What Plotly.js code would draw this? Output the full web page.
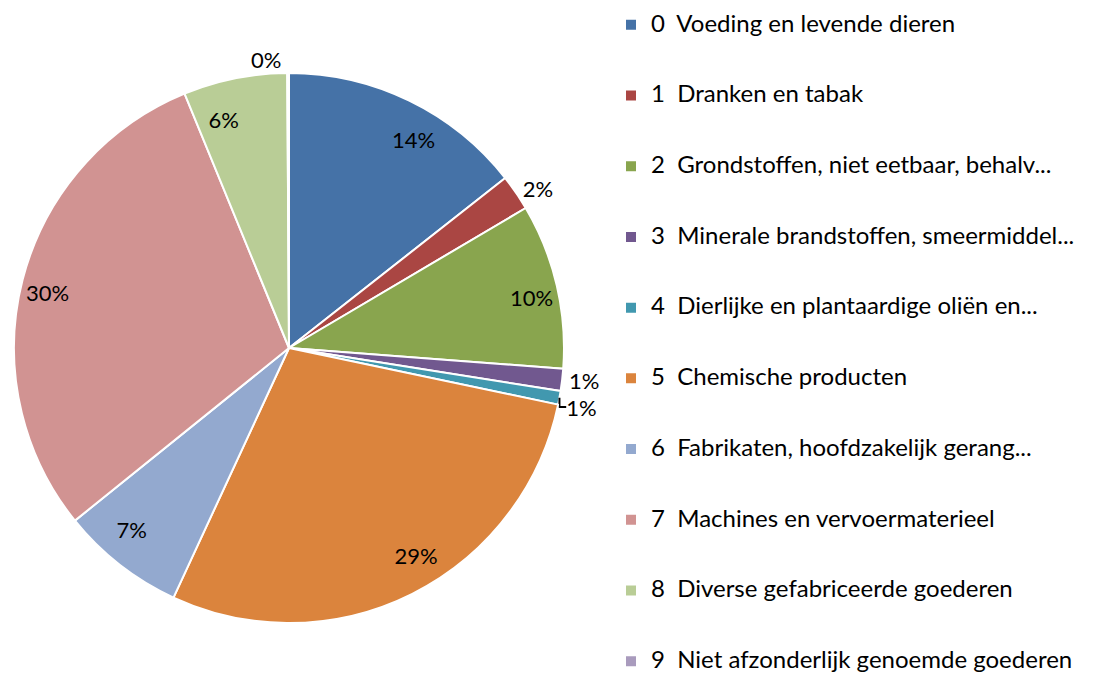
<!DOCTYPE html>
<html>
<head>
<meta charset="utf-8">
<script src="https://cdn.plot.ly/plotly-3.0.1.min.js"></script>
<style>
  html, body { margin: 0; padding: 0; background: #fff; }
  #chart { width: 1097px; height: 673px; }
</style>
</head>
<body>
<div id="chart"></div>
<script>
const codes = ['0', '1', '2', '3', '4', '5', '6', '7', '8', '9'];
const names = [
    'Voeding en levende dieren',
    'Dranken en tabak',
    'Grondstoffen, niet eetbaar, behalv...',
    'Minerale brandstoffen, smeermiddel...',
    'Dierlijke en plantaardige oliën en...',
    'Chemische producten',
    'Fabrikaten, hoofdzakelijk gerang...',
    'Machines en vervoermaterieel',
    'Diverse gefabriceerde goederen',
    'Niet afzonderlijk genoemde goederen'
];
const shares = [14.4, 2.1, 9.7, 1.3, 0.8, 28.6, 7.3, 29.6, 6.1, 0.1];
const colors = ['#4572A7', '#AA4643', '#89A54E', '#71588F', '#4198AF',
                '#DB843D', '#93A9CF', '#D19392', '#B9CD96', '#A99BBD'];
// small slices get their label outside the pie
const smallSlice = [false, true, false, true, true, false, false, false, false, true];

const font = 'Lato, "Open Sans", sans-serif';

// legend entries padded with empty lines to get the wide row spacing
const legendLabels = codes.map((c, i) =>
    '\u00a0<br><span style="font-size:24px">' + c + '\u00a0\u00a0' + names[i] + '</span><br>\u00a0');

const W = 1097, H = 673;
const cx = 289, cy = 348, R = 275, rLab = 220;

const pie = {
    type: 'pie',
    labels: legendLabels,
    values: shares,
    sort: false,
    direction: 'clockwise',
    rotation: 0,
    marker: { colors: colors, line: { color: '#fff', width: 2 } },
    texttemplate: '%{percent:.0%}',
    textposition: smallSlice.map(s => s ? 'outside' : 'none'),
    outsidetextfont: { family: font, size: 22, color: '#000' },
    hoverinfo: 'label+percent',
    domain: { x: [(cx - R) / W, (cx + R) / W], y: [(H - cy - R) / H, (H - cy + R) / H] }
};

// transparent copy carrying the labels of the larger slices
const pieLabels = {
    type: 'pie',
    labels: legendLabels,
    values: shares,
    sort: false,
    direction: 'clockwise',
    rotation: 0,
    showlegend: false,
    marker: { colors: colors.map(() => 'rgba(0,0,0,0)'), line: { width: 0 } },
    texttemplate: '%{percent:.0%}',
    textposition: smallSlice.map(s => s ? 'none' : 'outside'),
    outsidetextfont: { family: font, size: 22, color: '#000' },
    hoverinfo: 'skip',
    domain: { x: [(cx - rLab) / W, (cx + rLab) / W], y: [(H - cy - rLab) / H, (H - cy + rLab) / H] }
};

const layout = {
    width: W,
    height: H,
    margin: { l: 0, r: 0, t: 0, b: 0, autoexpand: false },
    paper_bgcolor: '#fff',
    font: { family: font, color: '#000' },
    showlegend: true,
    legend: {
        x: 611 / W,
        xanchor: 'left',
        y: 1 + 15.5 / H,
        yanchor: 'top',
        maxheight: 2000,
        font: { family: font, size: 17.36, color: '#000' },
        bgcolor: 'rgba(0,0,0,0)'
    }
};

Plotly.newPlot('chart', [pie, pieLabels], layout, { displayModeBar: false, staticPlot: true });
</script>
</body>
</html>
